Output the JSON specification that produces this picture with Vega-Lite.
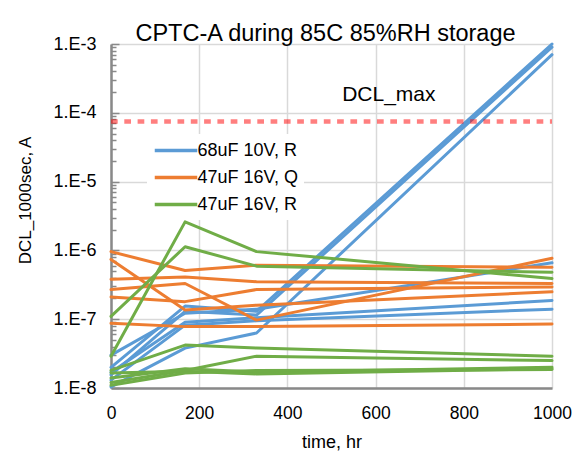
{
  "$schema": "https://vega.github.io/schema/vega-lite/v6.json",
  "width": 441,
  "height": 344,
  "autosize": "none",
  "padding": {"left": 111, "top": 44, "right": 20, "bottom": 66},
  "background": "white",
  "config": {
    "font": "Liberation Sans",
    "view": {"stroke": null}
  },
  "title": {
    "text": "CPTC-A during 85C 85%RH storage",
    "fontSize": 23.5,
    "fontWeight": "normal",
    "color": "black",
    "anchor": "middle",
    "frame": "group",
    "baseline": "alphabetic",
    "offset": 6,
    "dx": -6,
    "dy": 35
  },
  "datasets": {
    "series": [
      {"id": "B1", "group": "68uF 10V, R", "t": 0, "v": 2.0e-8},
      {"id": "B1", "group": "68uF 10V, R", "t": 168, "v": 1.55e-7},
      {"id": "B1", "group": "68uF 10V, R", "t": 330, "v": 1.3e-7},
      {"id": "B1", "group": "68uF 10V, R", "t": 1000, "v": 1.0e-3},
      {"id": "B2", "group": "68uF 10V, R", "t": 0, "v": 1.55e-8},
      {"id": "B2", "group": "68uF 10V, R", "t": 168, "v": 1.3e-7},
      {"id": "B2", "group": "68uF 10V, R", "t": 330, "v": 1.15e-7},
      {"id": "B2", "group": "68uF 10V, R", "t": 1000, "v": 9.0e-4},
      {"id": "B3", "group": "68uF 10V, R", "t": 0, "v": 1.04e-8},
      {"id": "B3", "group": "68uF 10V, R", "t": 168, "v": 3.8e-8},
      {"id": "B3", "group": "68uF 10V, R", "t": 330, "v": 6.3e-8},
      {"id": "B3", "group": "68uF 10V, R", "t": 1000, "v": 7.0e-4},
      {"id": "B4", "group": "68uF 10V, R", "t": 0, "v": 3.0e-8},
      {"id": "B4", "group": "68uF 10V, R", "t": 168, "v": 1.22e-7},
      {"id": "B4", "group": "68uF 10V, R", "t": 330, "v": 1.4e-7},
      {"id": "B4", "group": "68uF 10V, R", "t": 1000, "v": 6.6e-7},
      {"id": "B5", "group": "68uF 10V, R", "t": 0, "v": 1.7e-8},
      {"id": "B5", "group": "68uF 10V, R", "t": 168, "v": 9.0e-8},
      {"id": "B5", "group": "68uF 10V, R", "t": 330, "v": 1.05e-7},
      {"id": "B5", "group": "68uF 10V, R", "t": 1000, "v": 1.87e-7},
      {"id": "B6", "group": "68uF 10V, R", "t": 0, "v": 1.3e-8},
      {"id": "B6", "group": "68uF 10V, R", "t": 168, "v": 8.2e-8},
      {"id": "B6", "group": "68uF 10V, R", "t": 330, "v": 9.5e-8},
      {"id": "B6", "group": "68uF 10V, R", "t": 1000, "v": 1.4e-7},

      {"id": "Q1", "group": "47uF 16V, Q", "t": 0, "v": 9.6e-7},
      {"id": "Q1", "group": "47uF 16V, Q", "t": 168, "v": 5.1e-7},
      {"id": "Q1", "group": "47uF 16V, Q", "t": 330, "v": 6.1e-7},
      {"id": "Q1", "group": "47uF 16V, Q", "t": 1000, "v": 5.7e-7},
      {"id": "Q2", "group": "47uF 16V, Q", "t": 0, "v": 7.4e-7},
      {"id": "Q2", "group": "47uF 16V, Q", "t": 168, "v": 1.36e-7},
      {"id": "Q2", "group": "47uF 16V, Q", "t": 330, "v": 1.6e-7},
      {"id": "Q2", "group": "47uF 16V, Q", "t": 1000, "v": 2.5e-7},
      {"id": "Q3", "group": "47uF 16V, Q", "t": 0, "v": 3.8e-7},
      {"id": "Q3", "group": "47uF 16V, Q", "t": 168, "v": 4.1e-7},
      {"id": "Q3", "group": "47uF 16V, Q", "t": 330, "v": 3.5e-7},
      {"id": "Q3", "group": "47uF 16V, Q", "t": 1000, "v": 3.3e-7},
      {"id": "Q4", "group": "47uF 16V, Q", "t": 0, "v": 2.7e-7},
      {"id": "Q4", "group": "47uF 16V, Q", "t": 168, "v": 3.3e-7},
      {"id": "Q4", "group": "47uF 16V, Q", "t": 330, "v": 9.7e-8},
      {"id": "Q4", "group": "47uF 16V, Q", "t": 1000, "v": 7.7e-7},
      {"id": "Q5", "group": "47uF 16V, Q", "t": 0, "v": 2.1e-7},
      {"id": "Q5", "group": "47uF 16V, Q", "t": 168, "v": 1.8e-7},
      {"id": "Q5", "group": "47uF 16V, Q", "t": 330, "v": 2.7e-7},
      {"id": "Q5", "group": "47uF 16V, Q", "t": 1000, "v": 2.95e-7},
      {"id": "Q6", "group": "47uF 16V, Q", "t": 0, "v": 8.7e-8},
      {"id": "Q6", "group": "47uF 16V, Q", "t": 168, "v": 7.8e-8},
      {"id": "Q6", "group": "47uF 16V, Q", "t": 330, "v": 7.8e-8},
      {"id": "Q6", "group": "47uF 16V, Q", "t": 1000, "v": 8.5e-8},

      {"id": "R1", "group": "47uF 16V, R", "t": 0, "v": 2.9e-8},
      {"id": "R1", "group": "47uF 16V, R", "t": 168, "v": 2.6e-6},
      {"id": "R1", "group": "47uF 16V, R", "t": 330, "v": 9.6e-7},
      {"id": "R1", "group": "47uF 16V, R", "t": 1000, "v": 3.9e-7},
      {"id": "R2", "group": "47uF 16V, R", "t": 0, "v": 1.1e-7},
      {"id": "R2", "group": "47uF 16V, R", "t": 168, "v": 1.13e-6},
      {"id": "R2", "group": "47uF 16V, R", "t": 330, "v": 5.9e-7},
      {"id": "R2", "group": "47uF 16V, R", "t": 1000, "v": 4.8e-7},
      {"id": "R3", "group": "47uF 16V, R", "t": 0, "v": 1.8e-8},
      {"id": "R3", "group": "47uF 16V, R", "t": 168, "v": 4.2e-8},
      {"id": "R3", "group": "47uF 16V, R", "t": 330, "v": 3.8e-8},
      {"id": "R3", "group": "47uF 16V, R", "t": 1000, "v": 2.9e-8},
      {"id": "R4", "group": "47uF 16V, R", "t": 0, "v": 1.2e-8},
      {"id": "R4", "group": "47uF 16V, R", "t": 168, "v": 1.8e-8},
      {"id": "R4", "group": "47uF 16V, R", "t": 330, "v": 2.9e-8},
      {"id": "R4", "group": "47uF 16V, R", "t": 1000, "v": 2.5e-8},
      {"id": "R5", "group": "47uF 16V, R", "t": 0, "v": 1.4e-8},
      {"id": "R5", "group": "47uF 16V, R", "t": 168, "v": 1.9e-8},
      {"id": "R5", "group": "47uF 16V, R", "t": 330, "v": 1.7e-8},
      {"id": "R5", "group": "47uF 16V, R", "t": 1000, "v": 2.0e-8},
      {"id": "R6", "group": "47uF 16V, R", "t": 0, "v": 1.65e-8},
      {"id": "R6", "group": "47uF 16V, R", "t": 168, "v": 1.75e-8},
      {"id": "R6", "group": "47uF 16V, R", "t": 330, "v": 1.6e-8},
      {"id": "R6", "group": "47uF 16V, R", "t": 1000, "v": 1.9e-8},
      {"id": "R7", "group": "47uF 16V, R", "t": 0, "v": 1.1e-8},
      {"id": "R7", "group": "47uF 16V, R", "t": 168, "v": 1.65e-8},
      {"id": "R7", "group": "47uF 16V, R", "t": 330, "v": 1.8e-8},
      {"id": "R7", "group": "47uF 16V, R", "t": 1000, "v": 1.85e-8}
    ],
    "limit": [
      {"t": 0, "v": 7.5e-5},
      {"t": 1000, "v": 7.5e-5}
    ],
    "limit_label": [
      {"t": 630, "v": 1.5e-4, "label": "DCL_max"}
    ]
  },
  "layer": [
    {
      "data": {"name": "series"},
      "mark": {"type": "line", "strokeWidth": 3, "strokeJoin": "round", "strokeCap": "round"},
      "encoding": {
        "x": {
          "field": "t",
          "type": "quantitative",
          "scale": {"domain": [0, 1000], "nice": false},
          "axis": {
            "values": [0, 200, 400, 600, 800, 1000],
            "format": "d",
            "title": "time, hr",
            "ticks": false,
            "grid": true,
            "gridColor": "#d9d9d9",
            "gridWidth": 1.5,
            "domainColor": "#898989",
            "domainWidth": 2.5,
            "labelFontSize": 17.5,
            "labelColor": "black",
            "labelPadding": 16,
            "labelFlush": false,
            "titleFontSize": 18,
            "titleFontWeight": "normal",
            "titleColor": "black",
            "titlePadding": 12
          }
        },
        "y": {
          "field": "v",
          "type": "quantitative",
          "scale": {"type": "log", "domain": [1e-8, 1e-3], "nice": false},
          "axis": {
            "values": [1e-8, 2e-8, 3e-8, 4e-8, 5e-8, 6e-8, 7e-8, 8e-8, 9e-8,
                       1e-7, 2e-7, 3e-7, 4e-7, 5e-7, 6e-7, 7e-7, 8e-7, 9e-7,
                       1e-6, 2e-6, 3e-6, 4e-6, 5e-6, 6e-6, 7e-6, 8e-6, 9e-6,
                       1e-5, 2e-5, 3e-5, 4e-5, 5e-5, 6e-5, 7e-5, 8e-5, 9e-5,
                       1e-4, 2e-4, 3e-4, 4e-4, 5e-4, 6e-4, 7e-4, 8e-4, 9e-4,
                       1e-3],
            "labelExpr": "abs(log(datum.value)/LN10 - round(log(datum.value)/LN10)) < 0.001 ? '1.E' + round(log(datum.value)/LN10) : ''",
            "title": "DCL_1000sec, A",
            "grid": true,
            "gridColor": "#d9d9d9",
            "gridWidth": 1.5,
            "gridOpacity": {"condition": {"test": "abs(log(datum.value)/LN10 - round(log(datum.value)/LN10)) < 0.001", "value": 1}, "value": 0},
            "tickColor": "#898989",
            "tickWidth": 1.5,
            "tickSize": {"condition": {"test": "abs(log(datum.value)/LN10 - round(log(datum.value)/LN10)) < 0.001", "value": -8}, "value": -5},
            "domainColor": "#898989",
            "domainWidth": 2.5,
            "labelFontSize": 18,
            "labelColor": "black",
            "labelPadding": 23,
            "labelFlush": false,
            "labelOverlap": false,
            "titleFontSize": 17,
            "titleFontWeight": "normal",
            "titleColor": "black",
            "titleAngle": -90,
            "titleAlign": "center",
            "titleBaseline": "middle",
            "titleX": -86,
            "titleY": 156
          }
        },
        "color": {
          "field": "group",
          "type": "nominal",
          "scale": {
            "domain": ["68uF 10V, R", "47uF 16V, Q", "47uF 16V, R"],
            "range": ["#5B9BD5", "#ED7D31", "#70AD47"]
          },
          "legend": {
            "title": null,
            "orient": "none",
            "legendX": 36,
            "legendY": 90,
            "fillColor": "white",
            "padding": 6,
            "symbolType": "M-2.5,0H2.5",
            "symbolSize": 289,
            "symbolStrokeWidth": 3.5,
            "symbolOffset": 12.5,
            "labelFontSize": 18,
            "labelColor": "black",
            "labelOffset": 11,
            "rowPadding": 7
          }
        },
        "detail": {"field": "id"}
      }
    },
    {
      "data": {"name": "limit"},
      "mark": {"type": "line", "color": "#FF0000", "opacity": 0.5, "strokeWidth": 4.5, "strokeDash": [6.7, 6.6], "strokeCap": "butt"},
      "encoding": {
        "x": {"field": "t", "type": "quantitative"},
        "y": {"field": "v", "type": "quantitative"}
      }
    },
    {
      "data": {"name": "limit_label"},
      "mark": {"type": "text", "fontSize": 21, "align": "center", "baseline": "alphabetic", "color": "black"},
      "encoding": {
        "x": {"field": "t", "type": "quantitative"},
        "y": {"field": "v", "type": "quantitative"},
        "text": {"field": "label"}
      }
    },
    {
      "mark": {"type": "rule", "color": "#898989", "strokeWidth": 2},
      "encoding": {
        "x": {"datum": 1000},
        "y": {"datum": 1e-8},
        "y2": {"datum": 1e-3}
      }
    },
    {
      "mark": {"type": "rule", "color": "#898989", "strokeWidth": 2},
      "encoding": {
        "x": {"datum": 942},
        "x2": {"datum": 1000},
        "y": {"datum": 1e-3}
      }
    }
  ]
}
